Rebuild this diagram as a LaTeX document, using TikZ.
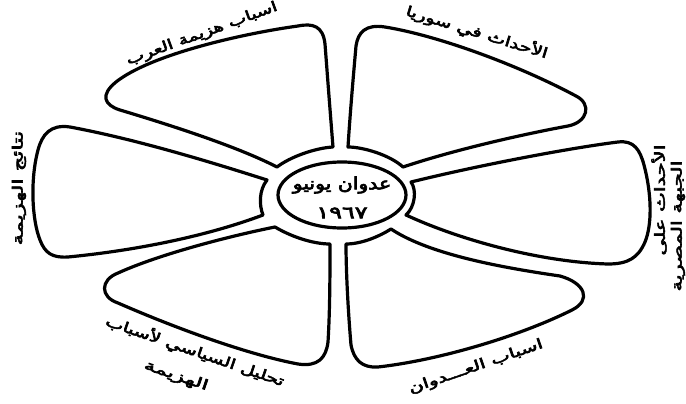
\documentclass[tikz,border=0pt]{standalone}
\usepackage{fontspec}
\TeXXeTstate=1
\newfontfamily\arabicfont[Script=Arabic,FakeBold=3.5]{DejaVu Sans}
\newcommand\widetxt[2]{\scalebox{#1}[1]{#2}}
\begin{document}
\begin{tikzpicture}[x=1pt,y=-1pt,
  petal/.style={draw=black,line width=3.2pt,line join=round},
  lbl/.style={font=\arabicfont\fontsize{14}{16}\selectfont,inner sep=0pt},
  ctr/.style={font=\arabicfont\fontsize{17}{17}\selectfont,inner sep=0pt}]
\useasboundingbox (0,0) rectangle (686,404);
\clip (0,0) rectangle (686,404);
\fill[white] (0,0) rectangle (686,404);
% centre
\draw[petal] (342,195) ellipse [x radius=64pt, y radius=33pt];
\node[ctr] (c1) at (342,185) {\widetxt{1.2}{\beginR عدوان يونيو\endR}};
\node[ctr] (c2) at (342,213) {\widetxt{1.4}{١٩٦٧}};
% top-left petal
\draw[petal] (277,167) .. controls (290,157) and (315,148) .. (333,147)
 .. controls (330,110) and (327,70) .. (325,44)
 .. controls (323,26) and (313,23) .. (298,26)
 .. controls (240,34) and (150,55) .. (116,82)
 .. controls (100,95) and (104,105) .. (120,110)
 .. controls (180,128) and (240,148) .. (277,167) -- cycle;
% top-right petal
\draw[petal] (403,167) .. controls (460,148) and (530,133) .. (568,126)
 .. controls (588,122) and (592,104) .. (576,96)
 .. controls (520,66) and (440,36) .. (385,27)
 .. controls (366,24) and (358,32) .. (356,46)
 .. controls (353,80) and (350,115) .. (348,147)
 .. controls (363,147) and (390,155) .. (403,167) -- cycle;
% right petal
\draw[petal] (411,182) .. controls (480,165) and (570,148) .. (618,142)
 .. controls (634,140) and (640,150) .. (644,165)
 .. controls (652,195) and (652,225) .. (645,242)
 .. controls (638,258) and (628,264) .. (608,264)
 .. controls (540,262) and (460,240) .. (406,215)
 .. controls (415,207) and (417,190) .. (411,182) -- cycle;
% bottom-right petal
\draw[petal] (391,229) .. controls (430,255) and (505,268) .. (560,276)
 .. controls (585,283) and (592,300) .. (572,310)
 .. controls (520,336) and (440,360) .. (378,367)
 .. controls (362,368) and (354,360) .. (351,345)
 .. controls (348,310) and (346,270) .. (346,244)
 .. controls (362,244) and (380,236) .. (391,229) -- cycle;
% bottom-left petal
\draw[petal] (275,227) .. controls (230,236) and (160,254) .. (118,273)
 .. controls (100,280) and (100,297) .. (118,303)
 .. controls (180,330) and (250,355) .. (298,364)
 .. controls (318,367) and (326,358) .. (328,342)
 .. controls (330,310) and (330,270) .. (330,244)
 .. controls (312,244) and (290,236) .. (275,227) -- cycle;
% left petal
\draw[petal] (267,180) .. controls (220,165) and (140,140) .. (70,127)
 .. controls (50,124) and (42,135) .. (38,150)
 .. controls (30,180) and (32,220) .. (40,240)
 .. controls (45,253) and (52,258) .. (68,257)
 .. controls (140,250) and (210,235) .. (263,215)
 .. controls (259,205) and (259,190) .. (267,180) -- cycle;
% labels
\node[lbl,rotate=20] (tl) at (202,34) {\widetxt{1.37}{\beginR اسباب هزيمة العرب\endR}};
\node[lbl,rotate=-17] (tr) at (477,32) {\widetxt{1.39}{\beginR الأحداث في سوريا\endR}};
\node[lbl,rotate=90] (r1) at (659,200) {\widetxt{1.5}{\beginR الأحداث على\endR}};
\node[lbl,rotate=90] (r2) at (678,226) {\widetxt{1.5}{\beginR الجبهة المصرية\endR}};
\node[lbl,rotate=90] (l) at (19,188) {\widetxt{1.6}{\beginR نتائج الهزيمة\endR}};
\node[lbl,rotate=-19] (bl1) at (195,351) {\widetxt{1.39}{\beginR تحليل السياسي لأسباب\endR}};
\node[lbl,rotate=-19] (bl2) at (176,376) {\widetxt{1.6}{\beginR الهزيمة\endR}};
\node[lbl,rotate=19] (br) at (476,367) {\widetxt{1.45}{\beginR اسباب العـــدوان\endR}};
\end{tikzpicture}
\end{document}
